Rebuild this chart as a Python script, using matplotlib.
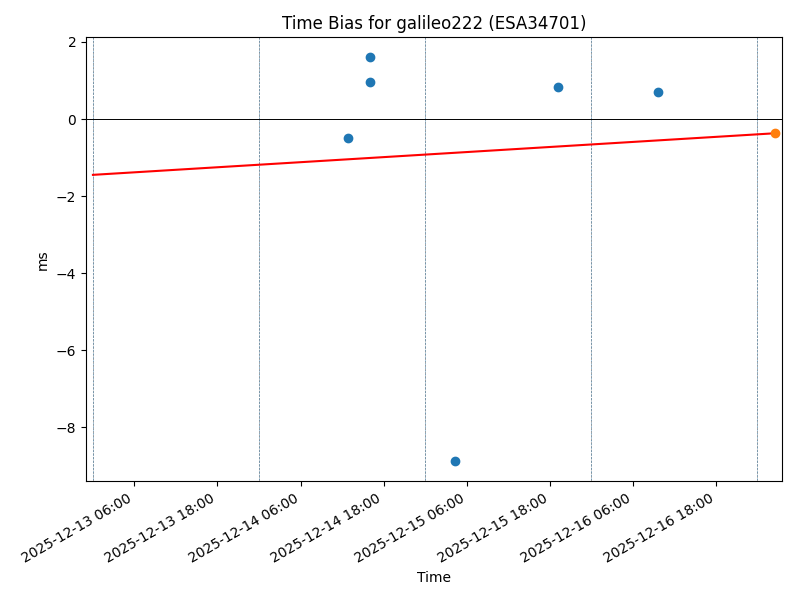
import pandas as pd
import matplotlib
matplotlib.use("Agg")
import matplotlib.pyplot as plt
import matplotlib.dates as mdates

# Time bias samples (ms)
times = pd.to_datetime([
    "2025-12-14 12:52", "2025-12-14 16:03", "2025-12-14 16:03",
    "2025-12-15 04:17", "2025-12-15 19:11", "2025-12-16 09:41",
])
bias_ms = [-0.50, 1.60, 0.95, -8.88, 0.82, 0.69]

# Latest prediction point
latest_time = pd.to_datetime("2025-12-17 02:34")
latest_bias = -0.37

# Trend line
trend_times = pd.to_datetime(["2025-12-13 00:00", "2025-12-17 02:34"])
trend_vals = [-1.45, -0.37]

# Day boundaries
day_lines = pd.date_range("2025-12-13", "2025-12-17", freq="D")

fig, ax = plt.subplots(figsize=(8, 6), dpi=100)

for d in day_lines:
    ax.axvline(d, color="gray", linestyle="--", linewidth=0.5)
    ax.axvline(d, color="tab:blue", alpha=0.5, linestyle=(3, (3, 2)), linewidth=0.5)
ax.axhline(0, color="black", linewidth=0.7)

ax.plot(times, bias_ms, "o", color="tab:blue")
ax.plot(trend_times, trend_vals, color="red")
ax.plot([latest_time], [latest_bias], "o", color="tab:orange")

ax.set_xlim(pd.Timestamp("2025-12-12 23:00"), pd.Timestamp("2025-12-17 03:34"))
ax.xaxis.set_major_locator(mdates.HourLocator(byhour=[6, 18]))
ax.xaxis.set_major_formatter(mdates.DateFormatter("%Y-%m-%d %H:%M"))

ax.set_title("Time Bias for galileo222 (ESA34701)")
ax.set_xlabel("Time")
ax.set_ylabel("ms")
fig.autofmt_xdate()
fig.subplots_adjust(left=0.1075, right=0.9775, top=0.938, bottom=0.198)
plt.savefig("out.png")
